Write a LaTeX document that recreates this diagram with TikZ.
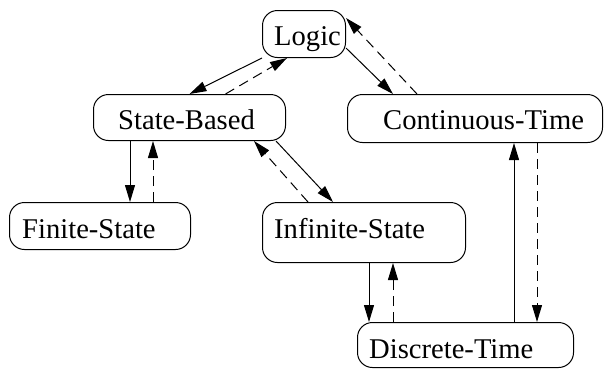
\documentclass[tikz,border=0pt]{standalone}
\usepackage{fontspec}
\setmainfont{Liberation Serif}
\usetikzlibrary{arrows.meta}
\begin{document}
\begin{tikzpicture}[x=1pt,y=-1pt,
  box/.style={draw,line width=1pt,rounded corners=15pt,anchor=north west,inner sep=0pt},
  lbl/.style={anchor=base west,inner sep=0pt,font=\fontsize{28.6}{34}\selectfont},
  link/.style={line width=1pt,-{Triangle[length=17pt,width=10pt]}},
  back/.style={link,dash pattern=on 10pt off 6pt}]
\useasboundingbox (0,0) rectangle (605,368);

% class boxes
\node[box,minimum width=83pt,minimum height=47pt]  (logic) at (262,10)  {};
\node[box,minimum width=192pt,minimum height=46pt] (sb)    at (93,94)   {};
\node[box,minimum width=255pt,minimum height=48pt] (ct)    at (347,94)  {};
\node[box,minimum width=181pt,minimum height=47pt] (fs)    at (9,202)   {};
\node[box,minimum width=203pt,minimum height=60pt] (is)    at (262,202) {};
\node[box,minimum width=216pt,minimum height=45pt] (dt)    at (357,322) {};

% labels
\node[lbl] (logic-t) at (274,45)  {Logic};
\node[lbl] (sb-t)    at (118,129) {State-Based};
\node[lbl] (ct-t)    at (383,129) {Continuous-Time};
\node[lbl] (fs-t)    at (22,238)  {Finite-State};
\node[lbl] (is-t)    at (274,238) {Infinite-State};
\node[lbl] (dt-t)    at (369,358) {Discrete-Time};

% Logic <-> State-Based
\draw[link] (logic.south west) -- (sb.north);
\draw[back] ([xshift=36pt]sb.north) -- ([xshift=25pt]logic.south west);

% Logic <-> Continuous-Time
\draw[link] ([yshift=10pt]logic.south east) -- ([xshift=46pt]ct.north west);
\draw[back] ([xshift=70pt]ct.north west) -- ([yshift=-8pt]logic.north east);

% State-Based <-> Finite-State
\coordinate (a1) at ([xshift=37pt]sb.south west);
\coordinate (a2) at ([xshift=60pt]sb.south west);
\draw[link] (a1) -- (a1 |- fs.north);
\draw[back] (a2 |- fs.north) -- (a2);

% State-Based <-> Infinite-State
\draw[link] ([xshift=-10pt]sb.south east) -- ([xshift=71pt]is.north west);
\draw[back] ([xshift=46pt]is.north west) -- ([xshift=-32pt]sb.south east);

% Infinite-State <-> Discrete-Time
\coordinate (b1) at ([xshift=12pt]dt.north west);
\coordinate (b2) at ([xshift=36pt]dt.north west);
\draw[link] (b1 |- is.south) -- (b1);
\draw[back] (b2) -- (b2 |- is.south);

% Discrete-Time <-> Continuous-Time
\coordinate (c1) at ([xshift=157pt]dt.north west);
\coordinate (c2) at ([xshift=180pt]dt.north west);
\draw[link] (c1) -- (c1 |- ct.south);
\draw[back] (c2 |- ct.south) -- (c2);
\end{tikzpicture}
\end{document}
